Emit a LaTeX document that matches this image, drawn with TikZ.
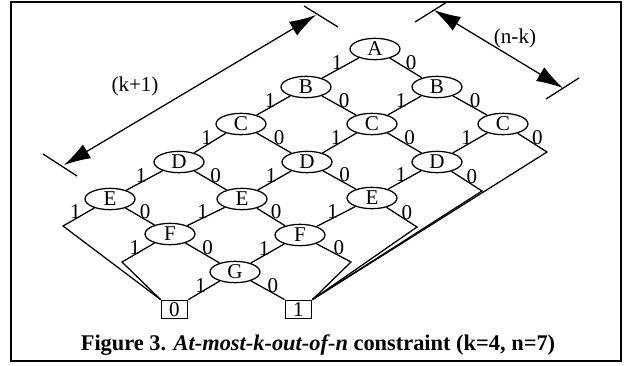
\documentclass[tikz,border=0pt]{standalone}
\usepackage{fontspec}
\setmainfont{Liberation Serif}
\usetikzlibrary{shapes.geometric,arrows.meta}
\newcommand\lblfont{\fontsize{15.8pt}{18pt}\selectfont}
\newcommand\capfont{\fontsize{16.8pt}{20pt}\selectfont}
\tikzset{
  ell/.style={ellipse, draw, line width=0.95pt, minimum width=37.5pt, minimum height=16pt, inner sep=0pt, font=\lblfont},
  term/.style={rectangle, draw, line width=0.95pt, minimum width=20pt, minimum height=14pt, inner sep=0pt, font=\lblfont},
  conn/.style={line width=0.95pt},
  lone/.style={pos=0.5, xshift=-2.5pt, yshift=3.8pt, inner sep=0pt, font=\lblfont},
  lzero/.style={pos=0.5, xshift=3.8pt, yshift=3.8pt, inner sep=0pt, font=\lblfont},
  dimline/.style={line width=0.95pt, {Latex[length=20pt,width=12pt]}-{Latex[length=20pt,width=12pt]}},
  tickline/.style={line width=0.95pt},
}
\begin{document}
\begin{tikzpicture}[x=0.75pt,y=-0.75pt]
\useasboundingbox (0,0) rectangle (624,365);
\draw[line width=1.3pt] (11,2) rectangle (621,361);

% nodes
\node[ell] (A)  at (375,49)  {A};
\node[ell] (Bl) at (306,87)  {B};
\node[ell] (Br) at (437,87)  {B};
\node[ell] (Cl) at (241,124) {C};
\node[ell] (Cm) at (372,124) {C};
\node[ell] (Cr) at (503,124) {C};
\node[ell] (Dl) at (179,162) {D};
\node[ell] (Dm) at (307,162) {D};
\node[ell] (Dr) at (437,162) {D};
\node[ell] (El) at (110,199) {E};
\node[ell] (Em) at (242,199) {E};
\node[ell] (Er) at (372,198) {E};
\node[ell] (Fl) at (170,234) {F};
\node[ell] (Fr) at (300,235) {F};
\node[ell] (G)  at (235,272) {G};
\node[term] (T0) at (174.5,309.5) {0};
\node[term] (T1) at (298.5,309.5) {1};

% corner points
\coordinate (cEl) at (63,226);
\coordinate (cFl) at (122,262);
\coordinate (cFr) at (351,262);
\coordinate (cEr) at (417,227);
\coordinate (cDr) at (482,191);
\coordinate (cCr) at (547,152);

% edges
\draw[conn] (A) -- node[lone]{1} (Bl);
\draw[conn] (A) -- node[lzero]{0} (Br);
\draw[conn] (Bl) -- node[lone]{1} (Cl);
\draw[conn] (Bl) -- node[lzero]{0} (Cm);
\draw[conn] (Br) -- node[lone]{1} (Cm);
\draw[conn] (Br) -- node[lzero]{0} (Cr);
\draw[conn] (Cl) -- node[lone]{1} (Dl);
\draw[conn] (Cl) -- node[lzero]{0} (Dm);
\draw[conn] (Cm) -- node[lone]{1} (Dm);
\draw[conn] (Cm) -- node[lzero]{0} (Dr);
\draw[conn] (Cr) -- node[lone]{1} (Dr);
\draw[conn] (Cr) -- node[lzero]{0} (cCr) -- (T1.north east);
\draw[conn] (Dl) -- node[lone]{1} (El);
\draw[conn] (Dl) -- node[lzero]{0} (Em);
\draw[conn] (Dm) -- node[lone]{1} (Em);
\draw[conn] (Dm) -- node[lzero]{0} (Er);
\draw[conn] (Dr) -- node[lone]{1} (Er);
\draw[conn] (Dr) -- node[lzero]{0} (cDr) -- (T1.north east);
\draw[conn] (El) -- node[lone]{1} (cEl) -- (T0.north west);
\draw[conn] (El) -- node[lzero]{0} (Fl);
\draw[conn] (Em) -- node[lone]{1} (Fl);
\draw[conn] (Em) -- node[lzero]{0} (Fr);
\draw[conn] (Er) -- node[lone]{1} (Fr);
\draw[conn] (Er) -- node[lzero]{0} (cEr) -- (T1.north east);
\draw[conn] (Fl) -- node[lone]{1} (cFl) -- (T0.north west);
\draw[conn] (Fl) -- node[lzero]{0} (G);
\draw[conn] (Fr) -- node[lone]{1} (G);
\draw[conn] (Fr) -- node[lzero]{0} (cFr) -- (T1.north east);
\draw[conn] (G) -- node[lone]{1} (T0.north east);
\draw[conn] (G) -- node[lzero]{0} (T1.north west);

% dimension (k+1)
\coordinate (kta) at (43,154);
\coordinate (ktb) at (77,176);
\coordinate (kua) at (304,6);
\coordinate (kub) at (338,27);
\coordinate (klo) at (64,165);
\coordinate (khi) at (316,15);
\draw[tickline] (kta) -- (ktb);
\draw[tickline] (kua) -- (kub);
\draw[dimline] (klo) -- (khi);
\node[font=\lblfont] (klab) at (135,86) {(k+1)};

% dimension (n-k)
\coordinate (nta) at (415,22);
\coordinate (ntb) at (447,2);
\coordinate (nua) at (546,99);
\coordinate (nub) at (579,78);
\coordinate (nhi) at (434,10);
\coordinate (nlo) at (563,88);
\draw[tickline] (nta) -- (ntb);
\draw[tickline] (nua) -- (nub);
\draw[dimline] (nhi) -- (nlo);
\node[font=\lblfont] (nlab) at (515,38) {(n-k)};

% caption
\node[font=\capfont, anchor=base, inner sep=0pt] (cap) at (318,350)
  {\bfseries Figure 3. \textit{At-most-k-out-of-n} constraint (k=4, n=7)};
\end{tikzpicture}
\end{document}
